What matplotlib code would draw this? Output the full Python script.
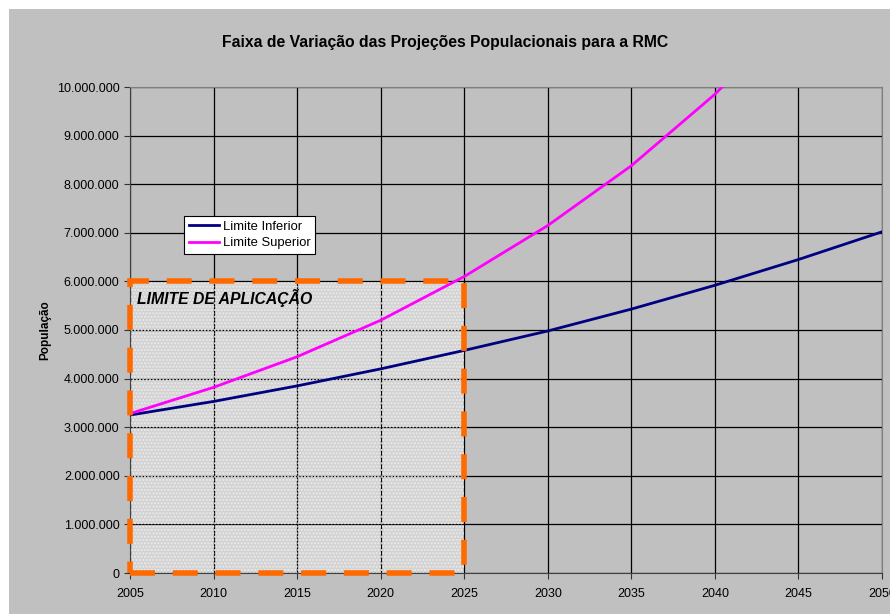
import matplotlib.pyplot as plt
from matplotlib.patches import Rectangle
from matplotlib.ticker import FuncFormatter

plt.rcParams['font.family'] = ['Liberation Sans', 'DejaVu Sans']

# Data
anos = [2005, 2010, 2015, 2020, 2025, 2030, 2035, 2040, 2045, 2050]
limite_inferior = [3250000, 3530000, 3850000, 4200000, 4580000, 4980000,
                   5430000, 5920000, 6450000, 7020000]
limite_superior = [3280000, 3820000, 4450000, 5200000, 6100000, 7150000,
                   8380000, 9850000, 11600000, 13600000]
yticks = list(range(0, 10000001, 1000000))
xticks = list(range(2005, 2051, 5))

# region of application
ap_x0, ap_x1 = 2005, 2025
ap_y0, ap_y1 = 0, 6000000

fig = plt.figure(figsize=(8.9, 6.14), dpi=100)
fig.patch.set_facecolor('white')
fig.patches.append(Rectangle((9 / 890, 0), 1, 1 - 9 / 614, transform=fig.transFigure,
                             facecolor='#c0c0c0', edgecolor='none', zorder=-10))

ax = fig.add_axes([130 / 890, 1 - 573 / 614, (882 - 130) / 890, (573 - 87) / 614])
ax.set_facecolor('#c0c0c0')

# shaded application area
ax.add_patch(Rectangle((ap_x0, ap_y0), ap_x1 - ap_x0, ap_y1 - ap_y0,
                       facecolor='#d2d2d2', edgecolor='none', zorder=0.5))
ax.add_patch(Rectangle((ap_x0, ap_y0), ap_x1 - ap_x0, ap_y1 - ap_y0,
                       facecolor='none', edgecolor='#ececec', hatch='.....',
                       linewidth=0, zorder=0.6))

ax.grid(True, color='black', linewidth=0.9)
ax.set_axisbelow(True)

ax.plot(anos, limite_inferior, color='#000080', linewidth=2, label='Limite Inferior', zorder=3)
ax.plot(anos, limite_superior, color='#ff00ff', linewidth=2, label='Limite Superior', zorder=3)

# dashed orange border
ax.add_patch(Rectangle((ap_x0, ap_y0), ap_x1 - ap_x0, ap_y1 - ap_y0,
                       facecolor='none', edgecolor='#ff6a00', linewidth=4,
                       linestyle=(0, (4.5, 3.2)), zorder=4, clip_on=False))
ax.text(2005.4, 5850000, 'LIMITE DE APLICAÇÃO', fontsize=11.3, fontweight='bold',
        fontstyle='italic', va='top', ha='left', zorder=5)

ax.set_xlim(2005, 2050)
ax.set_ylim(0, 10000000)
ax.set_xticks(xticks)
ax.set_yticks(yticks)
ax.yaxis.set_major_formatter(FuncFormatter(lambda v, p: f'{int(v):,}'.replace(',', '.')))
ax.tick_params(axis='both', labelsize=9, direction='out', length=4, color='#333333')
ax.tick_params(axis='x', pad=7)

for side in ['top', 'right']:
    ax.spines[side].set_color('#808080')
for side in ['left', 'bottom']:
    ax.spines[side].set_color('#404040')

ax.set_ylabel('População', fontsize=8.5, fontweight='bold', labelpad=4)
fig.text(0.5, 1 - 42 / 614, 'Faixa de Variação das Projeções Populacionais para a RMC',
         fontsize=11.3, fontweight='bold', ha='center', va='center')

leg = ax.legend(loc='upper left', bbox_to_anchor=((184 - 130) / 752, (573 - 216) / 486),
                fontsize=9.4, frameon=True, fancybox=False, borderpad=0.35,
                handlelength=2.3, labelspacing=0.35, borderaxespad=0, handletextpad=0.3)
leg.get_frame().set_edgecolor('black')
leg.get_frame().set_linewidth(0.8)
leg.get_frame().set_facecolor('white')
leg.get_frame().set_alpha(1)

fig.savefig('out.png', dpi=100)
